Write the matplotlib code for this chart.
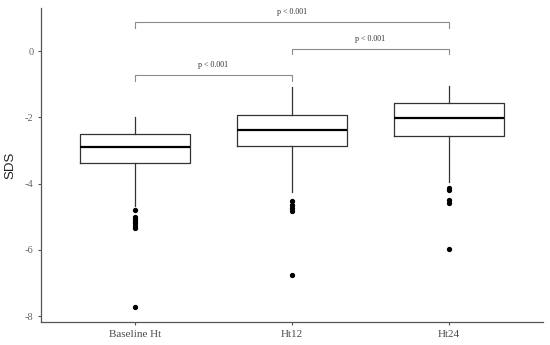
import matplotlib
matplotlib.use("Agg")
import matplotlib.pyplot as plt

categories = ["Baseline Ht", "Ht12", "Ht24"]
medians = [-2.89, -2.39, -2.03]
q1 = [-3.38, -2.88, -2.57]
q3 = [-2.50, -1.93, -1.56]
whisker_low = [-4.68, -4.24, -3.94]
whisker_high = [-2.00, -1.08, -1.05]
outliers = [
    [-4.79, -5.00, -5.07, -5.13, -5.20, -5.27, -5.33, -7.73],
    [-4.54, -4.64, -4.74, -4.84, -6.75],
    [-4.14, -4.20, -4.49, -4.59, -5.99],
]
yticks = [0, -2, -4, -6, -8]
comparisons = [(1, 2, "p < 0.001"), (2, 3, "p < 0.001"), (1, 3, "p < 0.001")]
bracket_y = [-0.72, 0.07, 0.87]

fig = plt.figure(figsize=(5.5, 3.45), dpi=100)
ax = fig.add_axes([0.0745, 0.0667, 0.9125, 0.91])

stats = []
for i in range(3):
    stats.append(dict(med=medians[i], q1=q1[i], q3=q3[i],
                      whislo=whisker_low[i], whishi=whisker_high[i],
                      fliers=outliers[i], label=categories[i]))

box_col = "#333333"
ax.bxp(stats, positions=[1, 2, 3], widths=0.7, showcaps=False,
       boxprops=dict(color=box_col, linewidth=0.9),
       whiskerprops=dict(color=box_col, linewidth=0.9),
       medianprops=dict(color="black", linewidth=1.6),
       flierprops=dict(marker="o", markerfacecolor="black", markeredgecolor="black",
                       markersize=2.8, linestyle="none"))

br_col = "#8c8c8c"
drop = 0.17
for (a, b, txt), yb in zip(comparisons, bracket_y):
    ax.plot([a, a, b, b], [yb - drop, yb, yb, yb - drop], color=br_col, lw=0.8,
            clip_on=False)
    ax.text((a + b) / 2, yb + 0.31, txt, ha="center", va="center",
            fontsize=5.8, family="Liberation Serif", color="#333333")

ax.set_xlim(0.4, 3.6)
ax.set_ylim(-8.18, 1.30)
ax.set_yticks(yticks)
ax.set_yticklabels([str(t) for t in yticks])
ax.set_xticks([1, 2, 3])
ax.set_xticklabels(categories)

for lab in ax.get_xticklabels():
    lab.set_fontfamily("Liberation Serif")
    lab.set_fontsize(8)
    lab.set_color("#4d4d4d")
for lab in ax.get_yticklabels():
    lab.set_fontfamily("Liberation Serif")
    lab.set_fontsize(7.5)
    lab.set_color("#666666")

ax.set_ylabel("SDS", fontsize=9.5, family="Liberation Sans", color="#222222", labelpad=6)

for s in ["top", "right"]:
    ax.spines[s].set_visible(False)
for s in ["left", "bottom"]:
    ax.spines[s].set_color("#555555")
    ax.spines[s].set_linewidth(0.9)
ax.tick_params(axis="both", length=2.5, width=0.8, color="#555555", pad=3)

fig.savefig("out.png", dpi=100)
